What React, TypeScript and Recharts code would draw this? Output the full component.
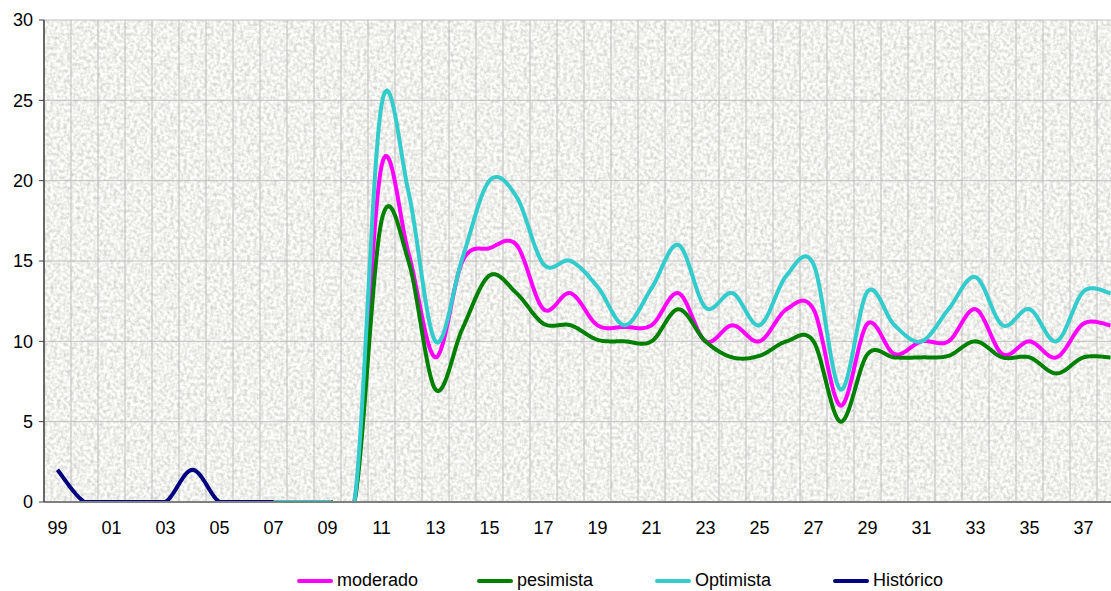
import { LineChart, Line, XAxis, YAxis, CartesianGrid } from "recharts";

const FONT = "'Liberation Sans', Arial, sans-serif";

const years = [
  "99", "00", "01", "02", "03", "04", "05", "06", "07", "08",
  "09", "10", "11", "12", "13", "14", "15", "16", "17", "18",
  "19", "20", "21", "22", "23", "24", "25", "26", "27", "28",
  "29", "30", "31", "32", "33", "34", "35", "36", "37", "38",
];

// 99..07, nothing after
const historico = [2, 0, 0, 0, 0, 2, 0, 0, 0];

// scenarios start at 07
const moderado = [
  0, 0, 0, 0, 20.9, 15.5, 9.0, 15.0, 15.8, 16.0, 12.0, 13.0, 11.0, 10.9, 11.0,
  13.0, 10.0, 11.0, 10.0, 12.0, 12.0, 6.0, 11.1, 9.2, 10.0, 10.0, 12.0, 9.2,
  10.0, 9.0, 11.1, 11.0,
];
const pesimista = [
  0, 0, 0, 0, 17.5, 15.0, 7.0, 10.8, 14.1, 13.0, 11.1, 11.0, 10.1, 10.0, 10.0,
  12.0, 10.0, 9.0, 9.1, 10.0, 10.0, 5.0, 9.2, 9.0, 9.0, 9.1, 10.0, 9.0, 9.0,
  8.0, 9.0, 9.0,
];
const optimista = [
  0, 0, 0, 0, 24.7, 19.3, 10.0, 15.2, 20.0, 19.0, 14.8, 15.0, 13.4, 11.0, 13.3,
  16.0, 12.1, 13.0, 11.0, 14.1, 14.8, 7.0, 13.1, 11.0, 10.0, 12.0, 14.0, 11.0,
  12.0, 10.0, 13.1, 13.0,
];

const yTicks = [0, 5, 10, 15, 20, 25, 30];

const SCEN_START = 8;

const data = years.map((year, i) => ({
  year,
  historico: i < historico.length ? historico[i] : null,
  moderado: i >= SCEN_START ? moderado[i - SCEN_START] : null,
  pesimista: i >= SCEN_START ? pesimista[i - SCEN_START] : null,
  optimista: i >= SCEN_START ? optimista[i - SCEN_START] : null,
}));

const series = [
  { key: "moderado", name: "moderado", color: "#FF00FF" },
  { key: "pesimista", name: "pesimista", color: "#008000" },
  { key: "optimista", name: "Optimista", color: "#33CCCC" },
  { key: "historico", name: "Histórico", color: "#000080" },
];

const TOP = 20;
const PLOT_H = 482;
const FLOOR = TOP + PLOT_H;

// excel-like smoothed line: catmull-rom beziers, dropped where they dip under the axis
function excelCurve(ctx: any) {
  let pts: number[][] = [];
  return {
    areaStart() {},
    areaEnd() {},
    lineStart() {
      pts = [];
    },
    point(x: number, y: number) {
      pts.push([+x, +y]);
    },
    lineEnd() {
      if (!pts.length) return;
      let pen = false;
      const put = (x: number, y: number) => {
        if (y > FLOOR + 3) {
          pen = false;
          return;
        }
        if (pen) ctx.lineTo(x, y);
        else {
          ctx.moveTo(x, y);
          pen = true;
        }
      };
      put(pts[0][0], pts[0][1]);
      for (let i = 0; i < pts.length - 1; i++) {
        const p0 = pts[i - 1] ?? pts[i];
        const p1 = pts[i];
        const p2 = pts[i + 1];
        const p3 = pts[i + 2] ?? p2;
        const c1x = p1[0] + (p2[0] - p0[0]) / 6;
        const c1y = p1[1] + (p2[1] - p0[1]) / 6;
        const c2x = p2[0] - (p3[0] - p1[0]) / 6;
        const c2y = p2[1] - (p3[1] - p1[1]) / 6;
        for (let s = 1; s <= 20; s++) {
          const t = s / 20;
          const u = 1 - t;
          const x = u * u * u * p1[0] + 3 * u * u * t * c1x + 3 * u * t * t * c2x + t * t * t * p2[0];
          const y = u * u * u * p1[1] + 3 * u * u * t * c1y + 3 * u * t * t * c2y + t * t * t * p2[1];
          put(x, Math.min(y, FLOOR));
          if (y > FLOOR + 3) pen = false;
        }
      }
    },
  };
}

const legendLeft = [297, 477, 655, 833];

export default function App() {
  return (
    <div
      style={{
        position: "fixed",
        left: 0,
        top: 0,
        width: 1111,
        height: 591,
        overflow: "hidden",
        background: "#fff",
        fontFamily: FONT,
      }}
    >
      <svg
        width={1080}
        height={PLOT_H}
        style={{ position: "absolute", left: 44, top: TOP }}
      >
        <filter id="granite" colorInterpolationFilters="sRGB">
          <feTurbulence type="fractalNoise" baseFrequency="0.3" numOctaves={2} seed={3} />
          <feColorMatrix
            type="matrix"
            values="0.34 0 0 0 0.77  0.34 0 0 0 0.77  0.34 0 0 0 0.76  0 0 0 0 1"
          />
        </filter>
        <rect width={1080} height={PLOT_H} filter="url(#granite)" />
      </svg>

      <LineChart
        width={1130}
        height={591}
        data={data}
        margin={{ top: TOP, right: 6, bottom: 49, left: 0 }}
      >
        <CartesianGrid
          stroke="#C0C0C0"
          strokeWidth={1}
          verticalCoordinatesGenerator={({ offset }: any) =>
            Array.from({ length: years.length + 1 }, (_, k) => offset.left + (k * offset.width) / years.length)
          }
        />
        <XAxis
          dataKey="year"
          scale="band"
          interval={1}
          tickLine={false}
          axisLine={{ stroke: "#808080", strokeWidth: 2 }}
          tick={{ fill: "#000", fontSize: 18, fontFamily: FONT }}
          tickMargin={13}
          height={40}
        />
        <YAxis
          domain={[0, 30]}
          ticks={yTicks}
          allowDataOverflow
          width={44}
          tickSize={5}
          tickMargin={6}
          tickLine={{ stroke: "#404040" }}
          axisLine={{ stroke: "#404040", strokeWidth: 1.5 }}
          tick={{ fill: "#000", fontSize: 18, fontFamily: FONT }}
        />
        {series.map((s) => (
          <Line
            key={s.key}
            dataKey={s.key}
            name={s.name}
            type={excelCurve as any}
            stroke={s.color}
            strokeWidth={4}
            dot={false}
            activeDot={false}
            isAnimationActive={false}
          />
        ))}
      </LineChart>

      {series.map((s, i) => (
        <div
          key={s.key}
          style={{
            position: "absolute",
            left: legendLeft[i],
            top: 572,
            height: 17,
            lineHeight: "17px",
            display: "flex",
            alignItems: "center",
            fontSize: 18,
            color: "#000",
            whiteSpace: "nowrap",
          }}
        >
          <span
            style={{
              display: "inline-block",
              width: 36,
              height: 4,
              background: s.color,
              borderRadius: 2,
              marginRight: 4,
            }}
          />
          {s.name}
        </div>
      ))}
    </div>
  );
}
